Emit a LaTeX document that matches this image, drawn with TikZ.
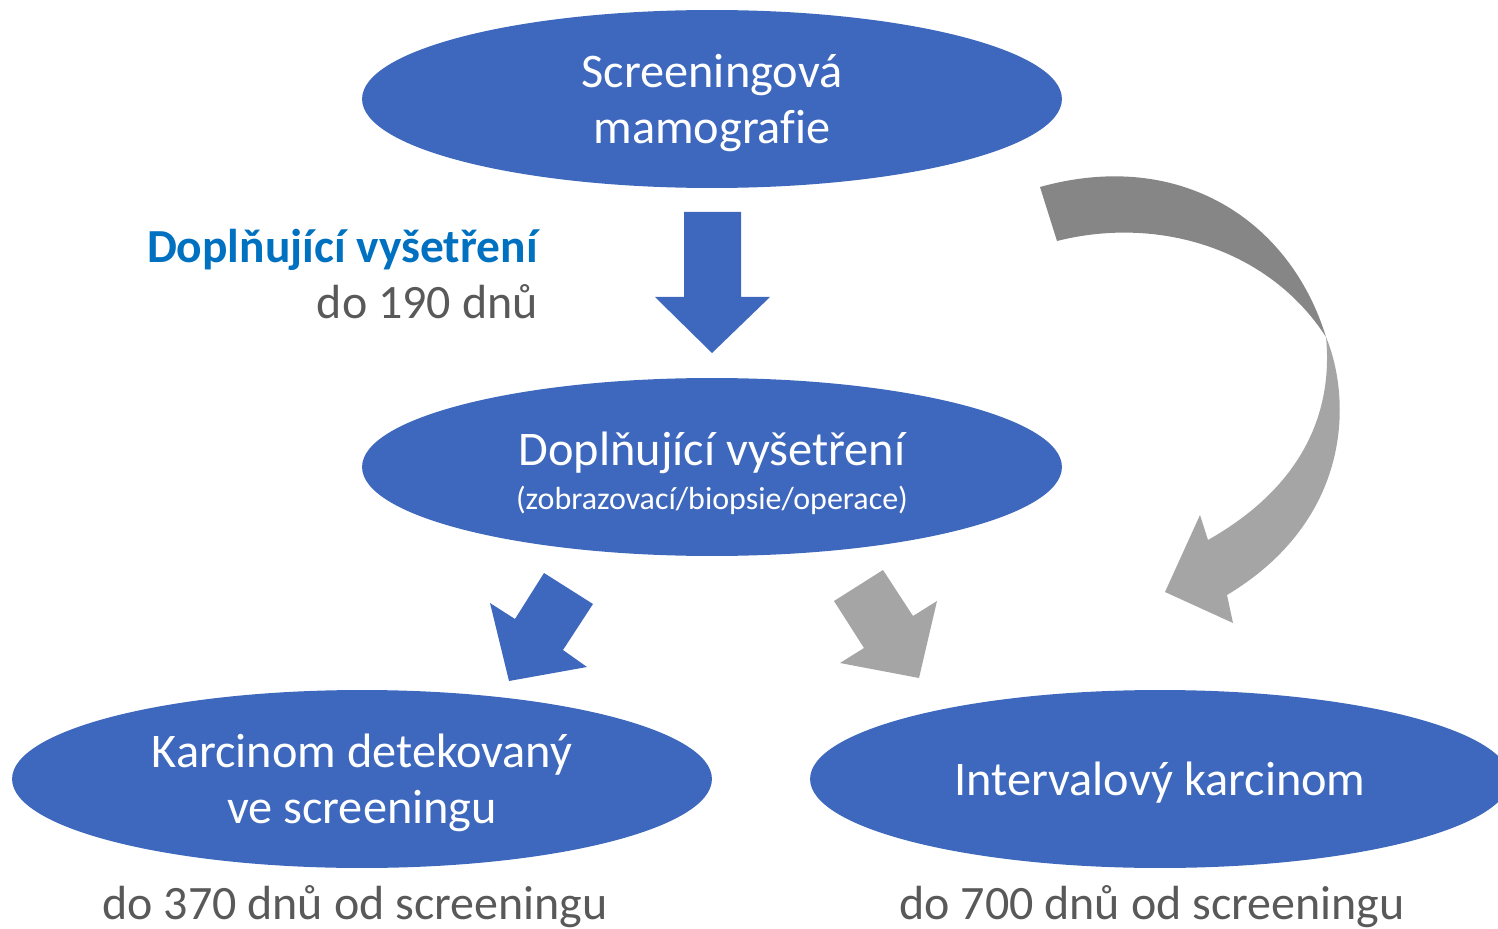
\documentclass[tikz,border=0pt]{standalone}
\usepackage{fontspec}
\setmainfont{Carlito}[Ligatures={NoCommon}]
\usetikzlibrary{shapes.geometric}

\definecolor{stepblue}{RGB}{62,104,189}
\definecolor{labelblue}{RGB}{0,112,192}
\definecolor{textgray}{RGB}{89,89,89}
\definecolor{arrowgray}{RGB}{165,165,165}
\definecolor{arrowdark}{RGB}{134,134,134}

\tikzset{
  stepnode/.style={ellipse, fill=stepblue, inner sep=0pt,
    minimum width=14cm, minimum height=3.56cm},
  steptext/.style={text=white, inner sep=0pt, align=center,
    font=\fontsize{27.5}{32}\selectfont},
  notenode/.style={text=textgray, inner sep=0pt, font=\fontsize{27.3}{32}\selectfont},
}

\begin{document}
\begin{tikzpicture}[x=0.02cm, y=-0.02cm]

\useasboundingbox (0,0) rectangle (1498,929);
\clip (0,0) rectangle (1498,929);

% steps
\node[stepnode] (mammo) at (712,99) {};
\node[stepnode] (extra) at (712,467) {};
\node[stepnode] (detected) at (362,779) {};
\node[stepnode] (interval) at (1160,779) {};

\node[steptext] (mammotext) at ([yshift=-4*0.02cm]mammo.center) {Screeningová\\mamografie};
\node[steptext] (extratext) at ([yshift=-6*0.02cm]extra.center) {Doplňující vyšetření\\[-7pt]
  {\fontsize{18.2}{22}\selectfont (zobrazovací/biopsie/operace)}};
\node[steptext] (detectedtext) at ([yshift=-4*0.02cm]detected.center) {Karcinom detekovaný\\ve screeningu};
\node[steptext] (intervaltext) at ([yshift=-4*0.02cm]interval.center) {Intervalový karcinom};

% time limits
\node[anchor=east, inner sep=0pt, text=labelblue, font=\fontsize{27}{32}\selectfont\bfseries]
  (extralabel) at (538,250) {Doplňující vyšetření};
\node[notenode, anchor=east] (extradays) at (538,302) {do 190 dnů};
\node[notenode] (detecteddays) at (355,907) {do 370 dnů od screeningu};
\node[notenode] (intervaldays) at (1152,907) {do 700 dnů od screeningu};

% block arrows
\fill[stepblue] (684,212) -- (741,212) -- (741,297) -- (770,297) -- (712,353)
  -- (655,297) -- (684,297) -- cycle;
\fill[stepblue] (544,573) -- (593,604) -- (563,650) -- (587,667) -- (509,681)
  -- (490,603) -- (515,619) -- cycle;
\fill[arrowgray] (834,601) -- (883,570) -- (913,616) -- (937,601) -- (919,678)
  -- (840,663) -- (864,648) -- cycle;

% curved arrow
\fill[arrowdark] (1040,187) .. controls (1180,148) and (1290,220) .. (1326,337)
  .. controls (1270,250) and (1160,215) .. (1057,241) -- cycle;
\fill[arrowgray] (1326,337) .. controls (1352,400) and (1352,520) .. (1227,595)
  -- (1233,623) -- (1165,592) -- (1200,515) -- (1208,540)
  .. controls (1305,485) and (1333,410) .. (1326,337) -- cycle;

\end{tikzpicture}
\end{document}
